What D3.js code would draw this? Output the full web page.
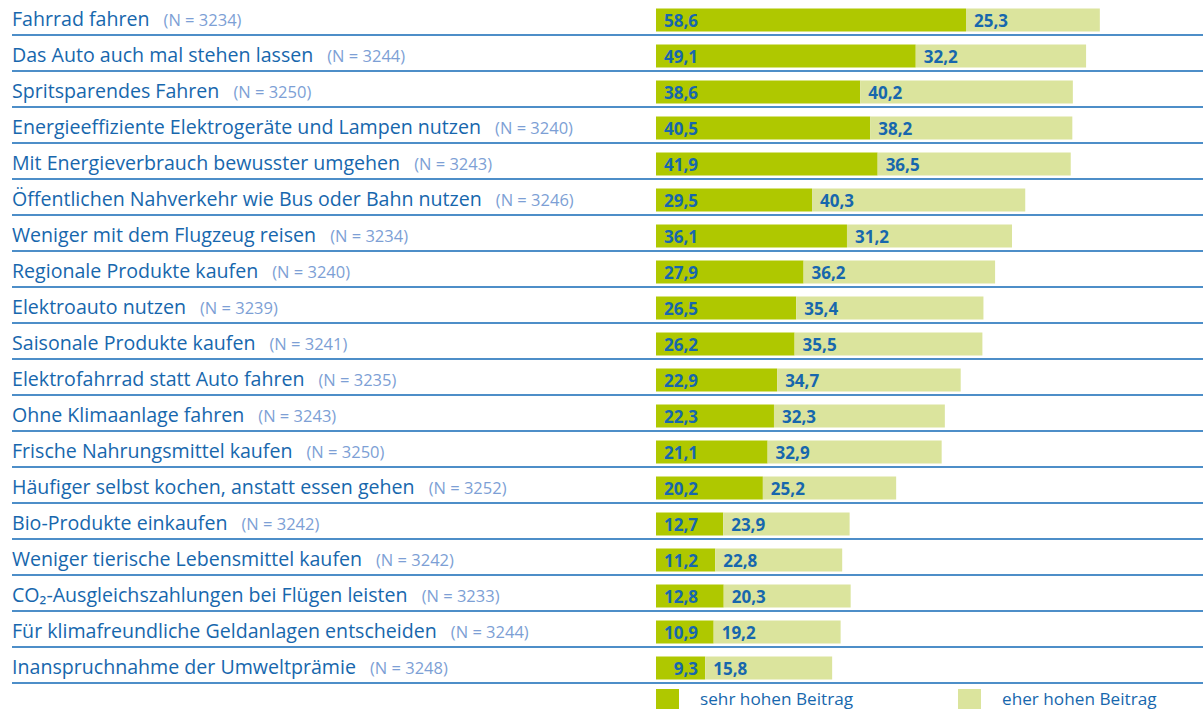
<!DOCTYPE html>
<html>
<head>
<meta charset="utf-8">
<script src="https://cdn.jsdelivr.net/npm/d3@7"></script>
<style>
  html, body { margin: 0; padding: 0; background: #fff; }
  svg { display: block; }
</style>
</head>
<body>
<svg id="chart" width="1203" height="709"></svg>
<script>
const categories = [
  "Fahrrad fahren",
  "Das Auto auch mal stehen lassen",
  "Spritsparendes Fahren",
  "Energieeffiziente Elektrogeräte und Lampen nutzen",
  "Mit Energieverbrauch bewusster umgehen",
  "Öffentlichen Nahverkehr wie Bus oder Bahn nutzen",
  "Weniger mit dem Flugzeug reisen",
  "Regionale Produkte kaufen",
  "Elektroauto nutzen",
  "Saisonale Produkte kaufen",
  "Elektrofahrrad statt Auto fahren",
  "Ohne Klimaanlage fahren",
  "Frische Nahrungsmittel kaufen",
  "Häufiger selbst kochen, anstatt essen gehen",
  "Bio-Produkte einkaufen",
  "Weniger tierische Lebensmittel kaufen",
  "CO₂-Ausgleichszahlungen bei Flügen leisten",
  "Für klimafreundliche Geldanlagen entscheiden",
  "Inanspruchnahme der Umweltprämie"
];
const sampleSizes = [3234, 3244, 3250, 3240, 3243, 3246, 3234, 3240, 3239, 3241, 3235, 3243, 3250, 3252, 3242, 3242, 3233, 3244, 3248];
// labelled values
const sehrHoch = [58.6, 49.1, 38.6, 40.5, 41.9, 29.5, 36.1, 27.9, 26.5, 26.2, 22.9, 22.3, 21.1, 20.2, 12.7, 11.2, 12.8, 10.9, 9.3];
const eherHoch = [25.3, 32.2, 40.2, 38.2, 36.5, 40.3, 31.2, 36.2, 35.4, 35.5, 34.7, 32.3, 32.9, 25.2, 23.9, 22.8, 20.3, 19.2, 15.8];
// bar lengths of the light segment as drawn in the reference (last rows are drawn at ~24)
const eherHochDrawn = [25.3, 32.2, 40.2, 38.2, 36.5, 40.3, 31.2, 36.2, 35.4, 35.5, 34.7, 32.3, 32.9, 25.2, 23.9, 24.0, 24.0, 24.0, 24.0];
const seriesNames = ["sehr hohen Beitrag", "eher hohen Beitrag"];

const colDark = "#afc800";
const colLight = "#dbe49d";
const textBlue = "#1767ad";
const nBlue = "#7d9fd5";
const lineBlue = "#4d8ec8";
const fontFam = "'Open Sans', 'Noto Sans', sans-serif";

const svg = d3.select("#chart");
const fmt = v => d3.format(".1f")(v).replace(".", ",");

const rowTop = 0, rowH = 36;
const y = d3.scaleBand().domain(d3.range(categories.length))
  .range([rowTop, rowTop + rowH * categories.length]).paddingInner(0).paddingOuter(0);
const x = d3.scaleLinear().domain([0, 100]).range([656, 656 + 529]);

const rows = svg.selectAll("g.row").data(categories.map((c, i) => ({
  cat: c, n: sampleSizes[i], a: sehrHoch[i], b: eherHoch[i], bd: eherHochDrawn[i], i
}))).join("g").attr("class", "row")
  .attr("transform", d => `translate(0,${y(d.i)})`);

// separator lines
rows.append("line")
  .attr("x1", 12).attr("x2", 1203)
  .attr("y1", 35).attr("y2", 35)
  .attr("stroke", lineBlue).attr("stroke-width", 1.8);

// labels
const lab = rows.append("text")
  .attr("x", 12).attr("y", 26)
  .attr("font-family", fontFam)
  .attr("font-size", 19.6)
  .attr("fill", textBlue);
lab.append("tspan").text(d => d.cat);
lab.append("tspan")
  .attr("dx", 14)
  .attr("font-size", 16.5)
  .attr("fill", nBlue)
  .text(d => `(N = ${d.n})`);

// bars
rows.append("rect")
  .attr("x", x(0)).attr("y", 8.5)
  .attr("width", d => x(d.a) - x(0)).attr("height", 23)
  .attr("fill", colDark);
rows.append("rect")
  .attr("x", d => x(d.a)).attr("y", 8.5)
  .attr("width", d => x(d.a + d.bd) - x(d.a)).attr("height", 23)
  .attr("fill", colLight);

// values
rows.append("text")
  .attr("x", x(0) + 42).attr("y", 27)
  .attr("text-anchor", "end")
  .attr("font-family", fontFam).attr("font-weight", "bold")
  .attr("font-size", 17).attr("fill", textBlue)
  .text(d => fmt(d.a));
rows.append("text")
  .attr("x", d => x(d.a) + 8).attr("y", 27)
  .attr("font-family", fontFam).attr("font-weight", "bold")
  .attr("font-size", 17).attr("fill", textBlue)
  .text(d => fmt(d.b));

// legend
const legend = svg.append("g");
const legX = [656, 958];
const legCol = [colDark, colLight];
seriesNames.forEach((s, i) => {
  legend.append("rect").attr("x", legX[i]).attr("y", 689)
    .attr("width", 23).attr("height", 22).attr("fill", legCol[i]);
  legend.append("text").attr("x", legX[i] + 44).attr("y", 704.5)
    .attr("font-family", fontFam).attr("font-size", 17.2)
    .attr("fill", textBlue).text(s);
});
</script>
</body>
</html>
